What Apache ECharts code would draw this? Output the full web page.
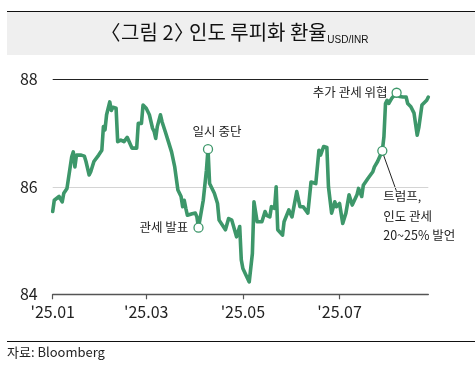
<!DOCTYPE html>
<html>
<head>
<meta charset="utf-8">
<script src="https://cdn.jsdelivr.net/npm/echarts@6/dist/echarts.min.js"></script>
<style>
html,body{margin:0;padding:0;background:#fff;}
#c{width:475px;height:369px;}
</style>
</head>
<body>
<div id="c"></div>
<script>
// ---- data ----
const dates = [
 '2025-01-01','2025-01-02','2025-01-05','2025-01-07','2025-01-08','2025-01-10','2025-01-13','2025-01-14','2025-01-15','2025-01-16',
 '2025-01-19','2025-01-21','2025-01-22','2025-01-24','2025-01-25','2025-01-27','2025-01-30','2025-02-01','2025-02-02','2025-02-03',
 '2025-02-04','2025-02-06','2025-02-07','2025-02-08','2025-02-10','2025-02-11','2025-02-13','2025-02-15','2025-02-17','2025-02-20',
 '2025-02-23','2025-02-24','2025-02-26','2025-02-27','2025-03-01','2025-03-03','2025-03-05','2025-03-06','2025-03-07','2025-03-08',
 '2025-03-10','2025-03-11','2025-03-13','2025-03-15','2025-03-17','2025-03-19','2025-03-21','2025-03-23','2025-03-24','2025-03-25',
 '2025-03-26','2025-03-27','2025-03-30','2025-04-01','2025-04-02','2025-04-03','2025-04-06','2025-04-08','2025-04-09','2025-04-10',
 '2025-04-13','2025-04-15','2025-04-16','2025-04-20','2025-04-22','2025-04-24','2025-04-25','2025-04-27','2025-04-29','2025-04-30',
 '2025-05-01','2025-05-02','2025-05-05','2025-05-07','2025-05-08','2025-05-10','2025-05-13','2025-05-15','2025-05-16','2025-05-18',
 '2025-05-19','2025-05-21','2025-05-22','2025-05-23','2025-05-26','2025-05-27','2025-05-30','2025-06-01','2025-06-04','2025-06-06',
 '2025-06-08','2025-06-11','2025-06-13','2025-06-16','2025-06-18','2025-06-19','2025-06-21','2025-06-23','2025-06-24','2025-06-25',
 '2025-06-26','2025-06-28','2025-06-29','2025-07-01','2025-07-03','2025-07-05','2025-07-07','2025-07-09','2025-07-12','2025-07-13',
 '2025-07-15','2025-07-16','2025-07-19','2025-07-22','2025-07-23','2025-07-25','2025-07-28','2025-07-29','2025-07-30','2025-07-31',
 '2025-08-01','2025-08-03','2025-08-06','2025-08-08','2025-08-10','2025-08-12','2025-08-13','2025-08-15','2025-08-17','2025-08-19',
 '2025-08-20','2025-08-22','2025-08-23','2025-08-25','2025-08-26'
];
const usdInr = [
 85.54,85.75,85.82,85.72,85.88,85.97,86.56,86.65,86.37,86.59,
 86.59,86.57,86.47,86.22,86.28,86.47,86.59,86.68,87.12,87.06,
 87.34,87.58,87.42,87.48,87.46,86.84,86.87,86.84,86.92,86.72,
 86.72,87.18,87.18,87.52,87.46,87.34,87.09,87.03,86.90,87.12,
 87.34,87.21,87.03,86.84,86.65,86.37,85.94,85.82,85.63,85.75,
 85.60,85.47,85.50,85.51,85.44,85.24,85.75,86.31,86.70,86.06,
 85.88,85.69,85.38,85.20,85.41,85.38,85.41,85.07,85.26,84.64,
 84.48,84.51,84.23,84.76,85.72,85.35,85.35,85.54,85.47,85.44,
 85.63,85.60,86.00,85.20,85.10,85.35,85.57,85.44,85.91,85.63,
 85.63,85.51,86.09,86.06,86.68,86.59,86.75,86.73,86.00,86.02,
 85.51,85.72,85.63,85.69,85.32,85.51,85.85,85.66,85.85,85.97,
 85.82,86.03,86.16,86.28,86.37,86.47,86.67,86.93,87.55,87.61,
 87.55,87.65,87.75,87.68,87.67,87.67,87.55,87.49,87.37,86.96,
 87.10,87.52,87.55,87.61,87.67
];
const eventDates  = ['2025-04-03','2025-04-09','2025-07-28','2025-08-06'];
const eventValues = [85.24, 86.70, 86.67, 87.75];
const eventLabels = ['관세 발표','일시 중단','트럼프,\n인도 관세\n20~25% 발언','추가 관세 위협'];
const tickDates  = ['2025-01-01','2025-03-01','2025-05-01','2025-07-01'];
const tickLabels = ["'25.01","'25.03","'25.05","'25.07"];
const yTicks = [84, 86, 88];
const axisStart = '2025-01-01';
const axisEnd   = '2025-08-26';
const titleParts = ['〈', '그림 2', '〉', '인도 루피화 환율'];
const titleUnit = 'USD/INR';
const sourceText = '자료: Bloomberg';

// ---- helpers ----
function ts(s){ const p = s.split('-').map(Number); return Date.UTC(p[0], p[1]-1, p[2]); }
const lineData = dates.map((d,i)=>[ts(d), usdInr[i]]);
const tickTs = tickDates.map(ts);

const GREEN = '#3d976a';
const FONT = '"Noto Sans CJK KR", "Noto Sans", sans-serif';
const SUBFONT = '"Liberation Sans Narrow","Liberation Sans",sans-serif';

// title layout: tighten the full-width brackets using their ink extents
const TSIZE = 20;
const mctx = document.createElement('canvas').getContext('2d');
function measure(txt, font){ mctx.font = font; return mctx.measureText(txt); }
const TF = TSIZE + 'px ' + FONT, SF = '10px ' + SUBFONT;
const titleEls = [];
(function(){
  const pieces = [];
  let cur = 0;
  let m = measure(titleParts[0], TF);
  pieces.push({t:titleParts[0], x: cur + m.actualBoundingBoxLeft, f:TSIZE, ff:FONT});
  cur += m.actualBoundingBoxLeft + m.actualBoundingBoxRight + 1.5;
  m = measure(titleParts[1], TF);
  pieces.push({t:titleParts[1], x:cur, f:TSIZE, ff:FONT});
  cur += m.width + 1.5;
  m = measure(titleParts[2], TF);
  pieces.push({t:titleParts[2], x: cur + m.actualBoundingBoxLeft, f:TSIZE, ff:FONT});
  cur += m.actualBoundingBoxLeft + m.actualBoundingBoxRight + 6;
  m = measure(titleParts[3], TF);
  pieces.push({t:titleParts[3], x:cur, f:TSIZE, ff:FONT});
  cur += m.width + 0.5;
  const mu = measure(titleUnit, SF);
  pieces.push({t:titleUnit, x:cur, f:10, ff:SUBFONT, sub:true});
  cur += mu.width;
  const off = 240 - cur/2;
  pieces.forEach(p=>{
    titleEls.push({type:'text', x: p.x + off, y: p.sub ? 45.5 : 32.5, style:{
      text:p.t, fontSize:p.f, fontFamily:p.ff, fill:'#111', align:'left',
      verticalAlign: p.sub ? 'bottom' : 'middle'
    }});
  });
})();

const labelStyles = [
  {position:'left', distance:5},
  {position:'top', distance:7, offset:[9,0]},
  {position:[6,41], align:'left', verticalAlign:'top', lineHeight:19.5},
  {position:'left', distance:4}
];

const eventData = eventDates.map((d,i)=>({
  value:[ts(d), eventValues[i]],
  label: Object.assign({show:true, formatter: eventLabels[i]}, labelStyles[i])
}));

const chart = echarts.init(document.getElementById('c'), null, {renderer:'canvas'});
const option = {
  backgroundColor:'#ffffff',
  animation:false,
  grid:{left:52.7, right:46.7, top:79.3, bottom:74.7, containLabel:false},
  xAxis:{
    type:'value',
    min: ts(axisStart), max: ts(axisEnd),
    axisLine:{show:true, lineStyle:{color:'#555', width:1.3}},
    axisTick:{show:true, customValues: tickTs, length:5, lineStyle:{color:'#555', width:1.2}},
    axisLabel:{
      customValues: tickTs,
      formatter: function(v){ const i = tickTs.indexOf(v); return i>=0 ? tickLabels[i] : ''; },
      color:'#222', fontSize:16, fontFamily:FONT, margin:10, hideOverlap:false,
      showMinLabel:true, showMaxLabel:true
    },
    splitLine:{show:false}
  },
  yAxis:{
    type:'value', min:yTicks[0], max:yTicks[yTicks.length-1], interval:2,
    axisLine:{show:false}, axisTick:{show:false},
    axisLabel:{color:'#222', fontSize:16, fontFamily:FONT, margin:15},
    splitLine:{show:true, lineStyle:{color:['#555','#d4d4d4','#222'], width:1}}
  },
  series:[
    {
      type:'line', data: lineData, showSymbol:false, symbol:'none',
      lineStyle:{color:GREEN, width:3.6, join:'round', cap:'round'},
      z:3
    },
    {
      type:'scatter', data: eventData, symbol:'circle', symbolSize:9,
      itemStyle:{color:'#fff', borderColor:GREEN, borderWidth:1.3, opacity:1},
      label:{color:'#222', fontSize:12.5, fontFamily:FONT},
      z:5
    }
  ],
  graphic:[
    {type:'rect', shape:{x:7, y:12, width:468, height:43}, style:{fill:'#efefef'}, z:-1},
    {type:'line', shape:{x1:7, y1:11.5, x2:475, y2:11.5}, style:{stroke:'#111', lineWidth:1.2}},
    {type:'line', shape:{x1:7, y1:341.5, x2:475, y2:341.5}, style:{stroke:'#111', lineWidth:1.2}},
    {type:'text', x:7, y:352, style:{text:sourceText, fontSize:13, fontFamily:FONT, fill:'#222', verticalAlign:'middle', align:'left'}}
  ].concat(titleEls)
};
chart.setOption(option);

// leader line for the Trump annotation, placed through the chart's own scales
const p = chart.convertToPixel({gridIndex:0}, [ts(eventDates[2]), eventValues[2]]);
chart.setOption({graphic: option.graphic.concat([
  {type:'line', shape:{x1:p[0]+1.2, y1:p[1]+4.3, x2:p[0]+14, y2:p[1]+40}, style:{stroke:'#222', lineWidth:1}}
])});
</script>
</body>
</html>
